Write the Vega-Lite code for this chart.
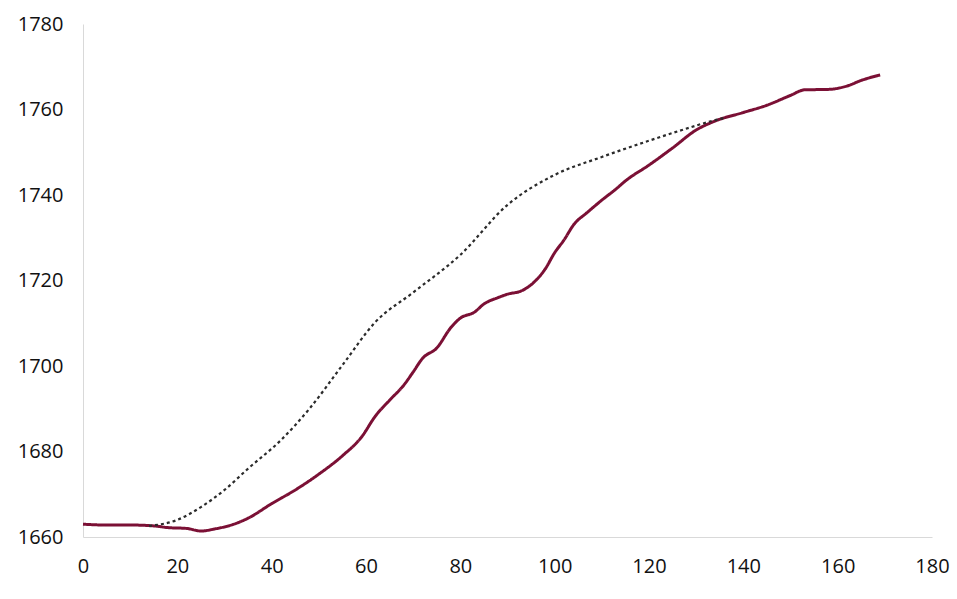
{
  "$schema": "https://vega.github.io/schema/vega-lite/v6.json",
  "width": 849,
  "height": 513,
  "autosize": {"type": "none"},
  "padding": {"left": 83, "top": 24, "right": 25, "bottom": 62},
  "background": "white",
  "config": {"view": {"stroke": null}, "font": "Open Sans"},
  "data": {
    "values": [
      {"x": 0, "y": 1663.0, "s": "observed"},
      {"x": 5, "y": 1662.8, "s": "observed"},
      {"x": 10, "y": 1662.8, "s": "observed"},
      {"x": 15, "y": 1662.6, "s": "observed"},
      {"x": 18, "y": 1662.2, "s": "observed"},
      {"x": 22, "y": 1662.0, "s": "observed"},
      {"x": 25, "y": 1661.4, "s": "observed"},
      {"x": 28, "y": 1661.9, "s": "observed"},
      {"x": 32, "y": 1663.0, "s": "observed"},
      {"x": 35, "y": 1664.4, "s": "observed"},
      {"x": 40, "y": 1667.8, "s": "observed"},
      {"x": 45, "y": 1671.0, "s": "observed"},
      {"x": 50, "y": 1674.7, "s": "observed"},
      {"x": 55, "y": 1679.0, "s": "observed"},
      {"x": 59, "y": 1683.3, "s": "observed"},
      {"x": 62, "y": 1688.3, "s": "observed"},
      {"x": 65, "y": 1692.0, "s": "observed"},
      {"x": 68, "y": 1695.5, "s": "observed"},
      {"x": 70, "y": 1698.6, "s": "observed"},
      {"x": 72, "y": 1701.8, "s": "observed"},
      {"x": 75, "y": 1704.2, "s": "observed"},
      {"x": 78, "y": 1709.0, "s": "observed"},
      {"x": 80, "y": 1711.2, "s": "observed"},
      {"x": 83, "y": 1712.6, "s": "observed"},
      {"x": 85, "y": 1714.5, "s": "observed"},
      {"x": 88, "y": 1716.0, "s": "observed"},
      {"x": 90, "y": 1716.8, "s": "observed"},
      {"x": 93, "y": 1717.6, "s": "observed"},
      {"x": 95, "y": 1719.0, "s": "observed"},
      {"x": 98, "y": 1722.7, "s": "observed"},
      {"x": 100, "y": 1726.5, "s": "observed"},
      {"x": 102, "y": 1729.5, "s": "observed"},
      {"x": 104, "y": 1733.0, "s": "observed"},
      {"x": 107, "y": 1736.0, "s": "observed"},
      {"x": 110, "y": 1738.8, "s": "observed"},
      {"x": 113, "y": 1741.4, "s": "observed"},
      {"x": 115, "y": 1743.3, "s": "observed"},
      {"x": 120, "y": 1747.0, "s": "observed"},
      {"x": 125, "y": 1751.0, "s": "observed"},
      {"x": 130, "y": 1755.2, "s": "observed"},
      {"x": 134, "y": 1757.3, "s": "observed"},
      {"x": 140, "y": 1759.3, "s": "observed"},
      {"x": 145, "y": 1761.0, "s": "observed"},
      {"x": 150, "y": 1763.3, "s": "observed"},
      {"x": 153, "y": 1764.6, "s": "observed"},
      {"x": 158, "y": 1764.7, "s": "observed"},
      {"x": 162, "y": 1765.5, "s": "observed"},
      {"x": 165, "y": 1766.8, "s": "observed"},
      {"x": 169, "y": 1768.1, "s": "observed"},
      {"x": 14, "y": 1662.6, "s": "model"},
      {"x": 20, "y": 1664.0, "s": "model"},
      {"x": 25, "y": 1667.0, "s": "model"},
      {"x": 30, "y": 1671.0, "s": "model"},
      {"x": 35, "y": 1676.0, "s": "model"},
      {"x": 42, "y": 1682.7, "s": "model"},
      {"x": 48, "y": 1690.0, "s": "model"},
      {"x": 55, "y": 1700.2, "s": "model"},
      {"x": 62, "y": 1710.3, "s": "model"},
      {"x": 70, "y": 1717.2, "s": "model"},
      {"x": 80, "y": 1726.0, "s": "model"},
      {"x": 90, "y": 1737.7, "s": "model"},
      {"x": 100, "y": 1744.7, "s": "model"},
      {"x": 110, "y": 1748.9, "s": "model"},
      {"x": 120, "y": 1752.7, "s": "model"},
      {"x": 127, "y": 1755.2, "s": "model"},
      {"x": 134, "y": 1757.5, "s": "model"},
      {"x": 136, "y": 1758.0, "s": "model"}
    ]
  },
  "mark": {"type": "line", "strokeCap": "butt", "interpolate": "monotone"},
  "encoding": {
    "x": {
      "field": "x", "type": "quantitative",
      "scale": {"domain": [0, 180], "nice": false},
      "axis": {"title": null, "values": [0, 20, 40, 60, 80, 100, 120, 140, 160, 180], "format": "d", "labelFlush": false, "labelOverlap": false, "grid": false, "ticks": false, "domainColor": "#d9d9d9", "domainWidth": 1, "labelFontSize": 20, "labelColor": "#111111", "labelPadding": 19, "labelFont": "Open Sans"}
    },
    "y": {
      "field": "y", "type": "quantitative",
      "scale": {"domain": [1660, 1780], "nice": false, "zero": false},
      "axis": {"title": null, "values": [1660, 1680, 1700, 1720, 1740, 1760, 1780], "format": "d", "labelFlush": false, "labelOverlap": false, "grid": false, "ticks": false, "domainColor": "#d9d9d9", "domainWidth": 1, "labelFontSize": 20, "labelColor": "#111111", "labelPadding": 20, "labelFont": "Open Sans"}
    },
    "color": {"field": "s", "type": "nominal", "scale": {"domain": ["observed", "model"], "range": ["#7b1035", "#2b2b2b"]}, "legend": null},
    "strokeDash": {"field": "s", "type": "nominal", "scale": {"domain": ["observed", "model"], "range": [[1, 0], [3, 3]]}, "legend": null},
    "strokeWidth": {"field": "s", "type": "nominal", "scale": {"domain": ["observed", "model"], "range": [3, 2.2]}, "legend": null},
    "order": {"field": "x", "type": "quantitative"}
  }
}
